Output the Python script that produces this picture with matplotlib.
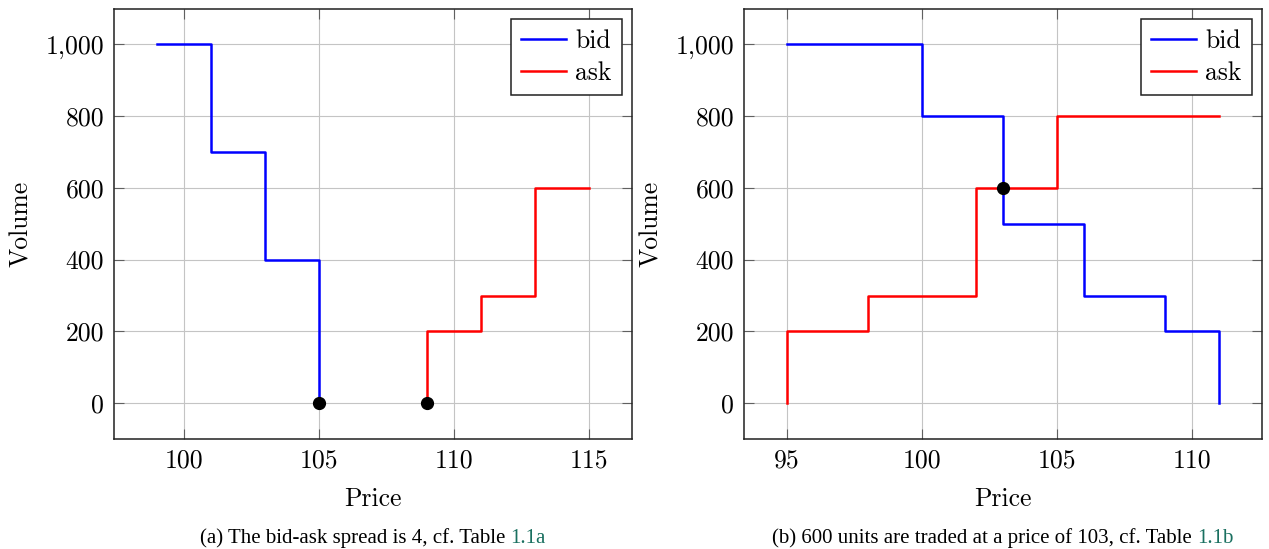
import matplotlib
matplotlib.use("Agg")
import matplotlib.pyplot as plt
from matplotlib.ticker import FuncFormatter

# ---- data ----
# Panel (a)
a_bid_price = [99, 101, 103, 105]
a_bid_volume = [1000, 700, 400, 0]
a_ask_price = [109, 109, 111, 113, 115]
a_ask_volume = [0, 200, 300, 600, 600]
a_marks_price = [105, 109]
a_marks_volume = [0, 0]
a_xticks = [100, 105, 110, 115]

# Panel (b)
b_bid_price = [95, 100, 103, 106, 109, 111]
b_bid_volume = [1000, 800, 500, 300, 200, 0]
b_ask_price = [95, 95, 98, 102, 105, 111]
b_ask_volume = [0, 200, 300, 600, 800, 800]
b_marks_price = [103]
b_marks_volume = [600]
b_xticks = [95, 100, 105, 110]

yticks = [0, 200, 400, 600, 800, 1000]

captions = [("(a) The bid-ask spread is 4, cf. Table ", "1.1a"),
            ("(b) 600 units are traded at a price of 103, cf. Table ", "1.1b")]

plt.rcParams['mathtext.fontset'] = 'cm'
plt.rcParams['axes.unicode_minus'] = False

CM = 'cmr10'
FS = 18.5

fig = plt.figure(figsize=(12.69, 5.49), dpi=100)

def fmt(v, pos):
    return "{:,}".format(int(round(v)))

def draw(ax, bp, bv, ap, av, mp, mv, xticks, xlim):
    ax.step(bp, bv, where='post', color='#0000ff', lw=1.8, label='bid', zorder=3)
    ax.step(ap, av, where='post', color='#ff0000', lw=1.8, label='ask', zorder=3)
    ax.plot(mp, mv, 'o', color='black', ms=8.5, zorder=4)
    ax.set_xlim(*xlim)
    ax.set_ylim(-100, 1100)
    ax.set_xticks(xticks)
    ax.set_yticks(yticks)
    ax.yaxis.set_major_formatter(FuncFormatter(fmt))
    ax.grid(True, color='#c4c4c4', lw=0.8, zorder=0)
    ax.set_axisbelow(True)
    ax.tick_params(direction='in', length=7, width=0.8, color='#606060',
                   top=True, right=True, labelsize=FS, pad=7)
    for lab in ax.get_xticklabels() + ax.get_yticklabels():
        lab.set_fontfamily(CM)
    for s in ax.spines.values():
        s.set_linewidth(1.1)
        s.set_color('#202020')
    ax.set_xlabel('Price', fontsize=FS, fontfamily=CM, labelpad=11)
    ax.set_ylabel('Volume', fontsize=FS, fontfamily=CM, labelpad=9)
    leg = ax.legend(loc='upper right', prop={'family': CM, 'size': FS},
                    fancybox=False, framealpha=1, edgecolor='#202020',
                    handlelength=1.75, handletextpad=0.35, borderpad=0.4,
                    labelspacing=0.32, borderaxespad=0.4)
    leg.get_frame().set_linewidth(1.1)

ax1 = fig.add_axes([114/1269, 1-439/549, (632-114)/1269, (439-8.5)/549])
draw(ax1, a_bid_price, a_bid_volume, a_ask_price, a_ask_volume,
     a_marks_price, a_marks_volume, a_xticks, (97.4, 116.6))

ax2 = fig.add_axes([744/1269, 1-439/549, (1262-744)/1269, (439-8.5)/549])
draw(ax2, b_bid_price, b_bid_volume, b_ask_price, b_ask_volume,
     b_marks_price, b_marks_volume, b_xticks, (93.4, 112.6))

# captions
for ax, (txt, ref) in zip([ax1, ax2], captions):
    pos = ax.get_position()
    cx = (pos.x0 + pos.x1) / 2
    t = fig.text(0, 0, txt, fontsize=15, fontfamily='Liberation Serif')
    r = fig.text(0, 0, ref, fontsize=15, fontfamily='Liberation Serif', color='#1a7060')
    fig.canvas.draw()
    rend = fig.canvas.get_renderer()
    w1 = t.get_window_extent(rend).width / fig.bbox.width
    w2 = r.get_window_extent(rend).width / fig.bbox.width
    x0 = cx - (w1 + w2) / 2
    y = 1 - 543/549
    t.set_position((x0, y))
    r.set_position((x0 + w1, y))

fig.savefig('out.png', dpi=100)
